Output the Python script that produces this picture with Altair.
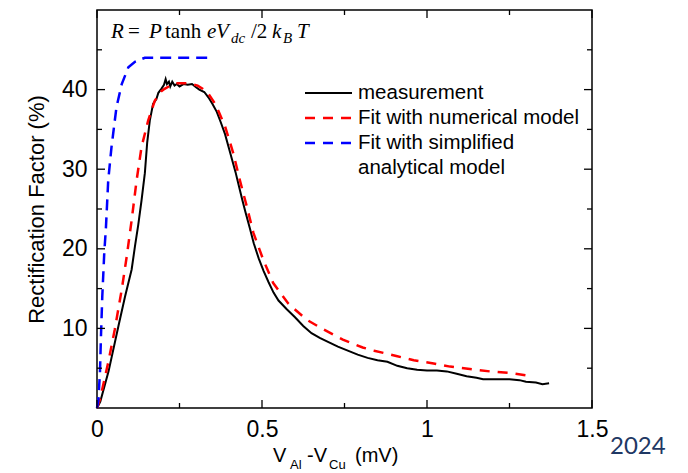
import altair as alt
import pandas as pd

# ---------------- data ----------------
meas_x = [0.0, 0.01, 0.035, 0.065, 0.085, 0.105, 0.115, 0.125, 0.135, 0.145, 0.152, 0.160,
          0.170, 0.180, 0.186, 0.195, 0.203, 0.208, 0.212, 0.218, 0.222, 0.228, 0.235, 0.242,
          0.250, 0.262, 0.275, 0.288, 0.300, 0.310, 0.325, 0.338, 0.350, 0.363, 0.375, 0.388,
          0.400, 0.410, 0.420, 0.430, 0.440, 0.450, 0.463, 0.475, 0.490, 0.505, 0.520, 0.535,
          0.550, 0.575, 0.600, 0.625, 0.650, 0.675, 0.700, 0.730, 0.760, 0.790, 0.820, 0.850,
          0.880, 0.910, 0.940, 0.970, 1.000, 1.030, 1.060, 1.090, 1.120, 1.150, 1.170, 1.210,
          1.250, 1.280, 1.300, 1.330, 1.350, 1.370]
meas_y = [0.0, 0.8, 4.6, 10.3, 14.0, 17.4, 20.3, 23.0, 26.1, 29.5, 33.3, 36.1,
          38.2, 38.8, 39.6, 40.1, 40.6, 41.3, 40.7, 41.0, 40.4, 41.0, 40.5, 40.7,
          40.4, 40.7, 40.6, 40.7, 40.3, 40.0, 39.7, 39.0, 38.2, 37.2, 35.9, 34.4,
          32.6, 31.1, 29.6, 27.9, 26.2, 24.6, 22.6, 20.7, 18.8, 17.2, 15.8, 14.5,
          13.5, 12.4, 11.4, 10.3, 9.4, 8.8, 8.3, 7.7, 7.2, 6.7, 6.3, 6.0,
          5.8, 5.3, 5.0, 4.8, 4.7, 4.7, 4.6, 4.3, 4.0, 3.8, 3.6, 3.6,
          3.6, 3.5, 3.3, 3.2, 3.0, 3.1]

num_x = [0.0, 0.009, 0.034, 0.054, 0.075, 0.090, 0.105, 0.120, 0.135, 0.155, 0.175, 0.195,
         0.205, 0.235, 0.275, 0.305, 0.320, 0.337, 0.355, 0.368, 0.388, 0.413, 0.433, 0.454,
         0.474, 0.504, 0.534, 0.580, 0.635, 0.685, 0.745, 0.805, 0.840, 0.910, 0.960, 1.020,
         1.070, 1.130, 1.190, 1.250, 1.300]
num_y = [0.0, 1.1, 5.7, 9.9, 14.9, 19.0, 23.6, 28.6, 32.8, 36.1, 38.6, 39.8,
         40.1, 40.8, 40.8, 40.5, 40.1, 39.5, 38.4, 37.3, 35.4, 32.0, 28.6, 25.3,
         22.0, 18.6, 15.7, 13.1, 11.1, 9.9, 8.6, 7.6, 7.2, 6.5, 6.0, 5.6,
         5.2, 4.9, 4.6, 4.4, 4.1]

ana_x = [0.0, 0.004, 0.009, 0.012, 0.016, 0.022, 0.027, 0.034, 0.044, 0.059, 0.075, 0.095,
         0.115, 0.145, 0.348]
ana_y = [0.0, 0.9, 4.5, 9.0, 14.0, 19.5, 22.6, 28.6, 32.8, 37.8, 40.7, 42.8,
         43.5, 44.0, 44.0]

x_major = [0, 0.5, 1, 1.5]
x_minor = [0.25, 0.75, 1.25]
y_major = [10, 20, 30, 40]
y_minor = [5, 15, 25, 35, 45]

legend_labels = ["measurement", "Fit with numerical model", "Fit with simplified", "analytical model"]
year_label = "2024"

# ---------------- layout ----------------
W, H = 495, 398
SANS = "Liberation Sans"
SERIF = "Liberation Serif"

xs = alt.Scale(domain=[0, 1.5], nice=False, zero=False)
ys = alt.Scale(domain=[0, 50], nice=False)

xaxis = alt.Axis(values=x_major, format="~g", title="", grid=False, ticks=False, domain=False,
                 labelFont=SANS, labelFontSize=23, labelColor="black", labelPadding=10,
                 labelFlush=False, labelOverlap=False)
yaxis = alt.Axis(values=y_major, title="Rectification Factor (%)", grid=False, ticks=False,
                 domain=False, labelFont=SANS, labelFontSize=23, labelColor="black",
                 labelPadding=10, titleFont=SANS, titleFontSize=22, titleFontWeight="normal",
                 titleColor="black", titlePadding=13)

X = alt.X("x:Q", scale=xs, axis=xaxis)
Y = alt.Y("y:Q", scale=ys, axis=yaxis)

meas_df = pd.DataFrame({"x": meas_x, "y": meas_y})
num_df = pd.DataFrame({"x": num_x, "y": num_y})
ana_df = pd.DataFrame({"x": ana_x, "y": ana_y})

meas = alt.Chart(meas_df).mark_line(color="black", strokeWidth=2).encode(x=X, y=Y, order="x:Q")
num = alt.Chart(num_df).mark_line(color="#ff0000", strokeWidth=2.5, strokeDash=[10, 8]).encode(x=X, y=Y)
ana = alt.Chart(ana_df).mark_line(color="#0000ff", strokeWidth=2.5, strokeDash=[11, 7]).encode(x=X, y=Y)

# tick marks (inward, on all four sides)
def xticks(vals, length):
    d = pd.DataFrame({"x": vals})
    bot = alt.Chart(d).mark_rule(color="black", strokeWidth=1.3).encode(
        x=X, y=alt.value(H), y2=alt.value(H - length))
    top = alt.Chart(d).mark_rule(color="black", strokeWidth=1.3).encode(
        x=X, y=alt.value(0), y2=alt.value(length))
    return [bot, top]

def yticks(vals, length):
    d = pd.DataFrame({"y": vals})
    left = alt.Chart(d).mark_rule(color="black", strokeWidth=1.3).encode(
        y=Y, x=alt.value(0), x2=alt.value(length))
    right = alt.Chart(d).mark_rule(color="black", strokeWidth=1.3).encode(
        y=Y, x=alt.value(W), x2=alt.value(W - length))
    return [left, right]

ticks = xticks(x_major, 8) + xticks(x_minor, 5) + yticks(y_major, 8) + yticks(y_minor, 5)

one = pd.DataFrame({"k": [0]})

def txt(s, x, y, size, font=SANS, style="normal", color="black", baseline="alphabetic", align="left"):
    return alt.Chart(one).mark_text(text=s, font=font, fontSize=size, fontStyle=style,
                                    color=color, baseline=baseline, align=align).encode(
        x=alt.value(x), y=alt.value(y))

# equation  R = P tanh eV_dc / 2 k_B T
eq = [
    txt("R", 14, 28, 21, SERIF, "italic"),
    txt("=", 31, 28, 21, SERIF),
    txt("P", 52, 28, 21, SERIF, "italic"),
    txt("tanh", 68, 28, 21, SERIF),
    txt("e", 110, 28, 21, SERIF, "italic"),
    txt("V", 119, 28, 21, SERIF, "italic"),
    txt("dc", 134, 33, 15, SERIF, "italic"),
    txt("/2", 154, 28, 21, SERIF),
    txt("k", 175, 28, 21, SERIF, "italic"),
    txt("B", 186, 33, 15, SERIF, "italic"),
    txt("T", 200, 28, 21, SERIF, "italic"),
]

# x-axis title  V_Al -V_Cu (mV)
xt = [
    txt("V", 176, 452, 20),
    txt("Al", 193, 459, 13),
    txt("-V", 210, 452, 20),
    txt("Cu", 232, 459, 13),
    txt("(mV)", 258, 452, 20),
]

# legend
leg_rows = [83, 108, 133, 158]
leg = [
    alt.Chart(one).mark_rule(color="black", strokeWidth=2).encode(
        x=alt.value(208), x2=alt.value(255), y=alt.value(leg_rows[0])),
    alt.Chart(one).mark_rule(color="#ff0000", strokeWidth=2.5, strokeDash=[10, 8]).encode(
        x=alt.value(208), x2=alt.value(255), y=alt.value(leg_rows[1])),
    alt.Chart(one).mark_rule(color="#0000ff", strokeWidth=2.5, strokeDash=[10, 8]).encode(
        x=alt.value(208), x2=alt.value(255), y=alt.value(leg_rows[2])),
]
for lab, yy in zip(legend_labels, leg_rows):
    leg.append(txt(lab, 261, yy, 20.5, baseline="middle"))

year = [txt(year_label, 513, 444, 24, font="Lato", color="#1f3864")]

chart = alt.layer(meas, num, ana, *ticks, *eq, *xt, *leg, *year).properties(
    width=W, height=H,
    autosize=alt.AutoSizeParams(type="none"),
    padding={"left": 97, "top": 10, "right": 96, "bottom": 65},
    background="white",
).configure_view(stroke="black", strokeWidth=1.5)

chart.save("out.html", embed_options={"renderer": "svg", "actions": False})
